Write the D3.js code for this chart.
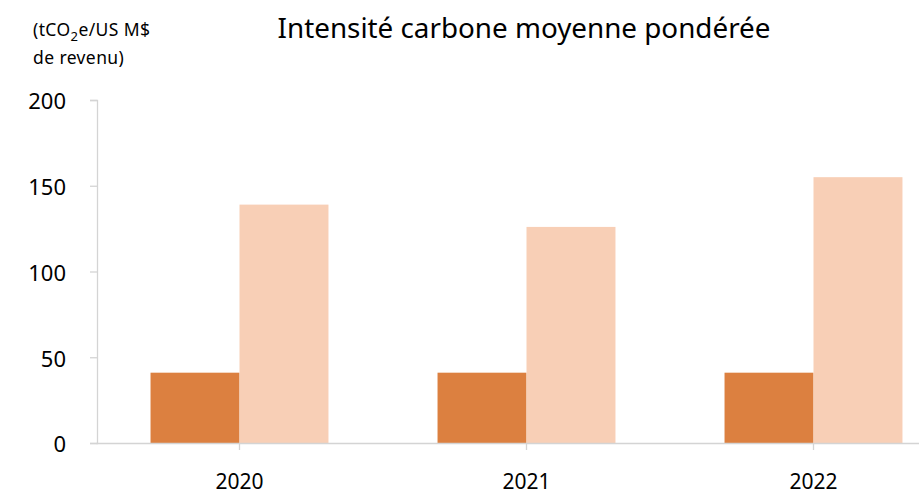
<!DOCTYPE html>
<html><head><meta charset="utf-8">
<script src="https://cdn.jsdelivr.net/npm/d3@7"></script>
<style>body{margin:0;background:#fff}svg{display:block;font-family:"Noto Sans",sans-serif}</style>
</head><body>
<svg id="c" width="919" height="494"></svg>
<script>
const categories = ["2020","2021","2022"];
const seriesNames = ["Portefeuille","Indice de référence"];
const portfolio = [41, 41, 41];
const benchmark = [139, 126, 155];
const yTicks = [0, 50, 100, 150, 200];
const colors = ["#DC8040", "#F8CFB6"];

const svg = d3.select("#c");
const y = d3.scaleLinear().domain([0, 200]).range([443, 100]);
const x0 = d3.scaleBand().domain(categories).range([96, 957]).padding(0);
const bw = x0.bandwidth();
const x1 = d3.scaleBand().domain(seriesNames).range([bw*0.19, bw*0.81]).padding(0);
const series = [portfolio, benchmark];
const axisColor = "#d4d4d4";

// y axis
const yAxis = svg.append("g").attr("transform","translate(97,0)")
  .call(d3.axisLeft(y).tickValues(yTicks).tickSize(7).tickPadding(24));
yAxis.select(".domain").attr("stroke", axisColor).attr("stroke-width",1.3);
yAxis.selectAll(".tick line").attr("stroke", axisColor).attr("stroke-width",1.3);
yAxis.selectAll(".tick text").attr("font-size", 22).attr("fill","#000").attr("font-family","Noto Sans").attr("dy","0.4em");

// bars
categories.forEach((c, i) => {
  seriesNames.forEach((s, j) => {
    svg.append("rect")
      .attr("x", x0(c) + x1(s))
      .attr("width", x1.bandwidth())
      .attr("y", y(series[j][i]))
      .attr("height", y(0) - y(series[j][i]))
      .attr("fill", colors[j]);
  });
});

// x axis
const xAxis = svg.append("g").attr("transform","translate(0,443)")
  .call(d3.axisBottom(x0).tickSize(7).tickSizeOuter(0).tickPadding(24));
xAxis.select(".domain").attr("stroke", axisColor).attr("stroke-width",1.3);
xAxis.selectAll(".tick line").attr("stroke", axisColor).attr("stroke-width",1.3);
xAxis.selectAll(".tick text").attr("font-size", 21).attr("fill","#000").attr("font-family","Noto Sans");

// title
svg.append("text").attr("x", 524).attr("y", 38).attr("text-anchor","middle")
  .attr("font-size", 27.8).attr("fill","#000").text("Intensité carbone moyenne pondérée");

// unit label
const u = svg.append("text").attr("x", 33).attr("y", 36).attr("font-size", 17.5).attr("letter-spacing", 0.4).attr("fill","#000");
u.append("tspan").text("(tCO");
u.append("tspan").attr("font-size", 13).attr("dy", 5).text("2");
u.append("tspan").attr("dy", -5).text("e/US M$");
svg.append("text").attr("x", 33).attr("y", 64).attr("font-size", 17.5).attr("letter-spacing", 0.4).attr("fill","#000").text("de revenu)");
</script>
</body></html>
